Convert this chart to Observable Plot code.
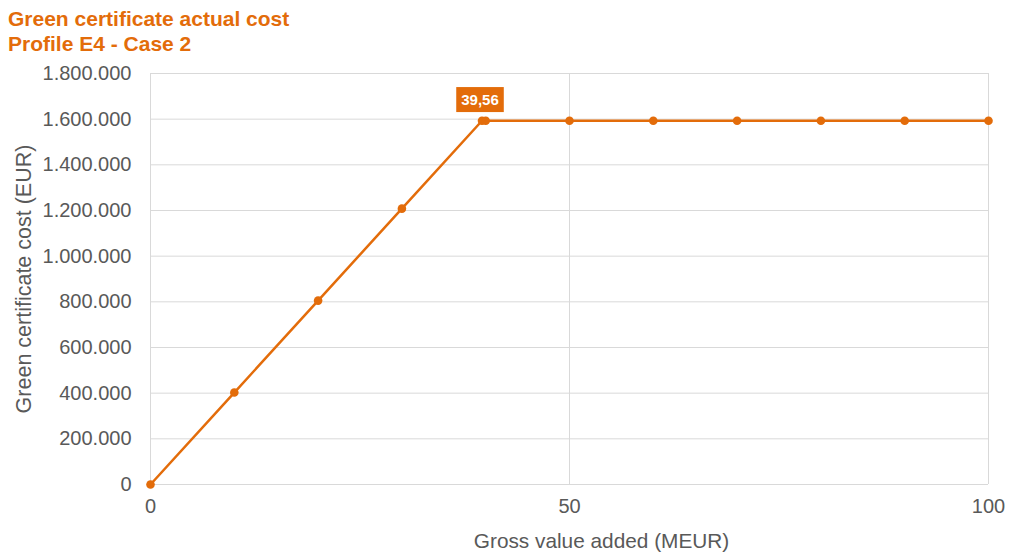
<!DOCTYPE html>
<html>
<head>
<meta charset="utf-8">
<script src="https://cdn.jsdelivr.net/npm/d3@7"></script>
<script src="https://cdn.jsdelivr.net/npm/@observablehq/plot@0.6"></script>
<style>
  html, body { margin: 0; padding: 0; background: #fff; }
  #wrap { position: relative; width: 1010px; height: 560px; font-family: "Liberation Sans", Arial, sans-serif; }
  #title { position: absolute; left: 8px; top: 6px; color: #E36C0A; font-weight: bold; font-size: 21px; line-height: 25px; z-index: 2; }
  #chart { position: absolute; left: 0; top: 0; }
</style>
</head>
<body>
<div id="wrap">
  <div id="title">Green certificate actual cost<br>Profile E4 - Case 2</div>
  <div id="chart"></div>
</div>
<script>
const gva = [0, 10, 20, 30, 39.56, 40, 50, 60, 70, 80, 90, 100];
const cost = [0, 402700, 805400, 1208100, 1593000, 1593000, 1593000, 1593000, 1593000, 1593000, 1593000, 1593000];
const xTicks = [0, 50, 100];
const yTicks = [0, 200000, 400000, 600000, 800000, 1000000, 1200000, 1400000, 1600000, 1800000];
const labelPoint = [{x: 39.56, y: 1593000, text: "39,56"}];

const data = gva.map((x, i) => ({x, y: cost[i]}));
const fmt = d3.formatLocale({decimal: ",", thousands: ".", grouping: [3], currency: ["", "€"]}).format(",");
const orange = "#E36C0A";
const grey = "#595959";

const chart = Plot.plot({
  width: 1010,
  height: 560,
  marginLeft: 150,
  marginRight: 22,
  marginTop: 73,
  marginBottom: 76,
  style: {fontFamily: "'Liberation Sans', Arial, sans-serif", fontSize: "20px", color: grey, background: "white"},
  x: {domain: [0, 100], ticks: xTicks},
  y: {domain: [0, 1800000], ticks: yTicks},
  marks: [
    Plot.gridY(yTicks, {stroke: "#d9d9d9", strokeOpacity: 1, strokeWidth: 1}),
    Plot.gridX(xTicks, {stroke: "#d9d9d9", strokeOpacity: 1, strokeWidth: 1}),
    Plot.axisY(yTicks, {tickSize: 0, tickPadding: 19, tickFormat: fmt, fill: grey, fontSize: 20, label: null}),
    Plot.axisX(xTicks, {tickSize: 0, tickPadding: 14, fill: grey, fontSize: 20, label: null}),
    Plot.line(data, {x: "x", y: "y", stroke: orange, strokeWidth: 2.5}),
    Plot.dot(data, {x: "x", y: "y", fill: orange, r: 4.3}),
    Plot.text(labelPoint, {x: "x", y: "y", text: "text", dy: -20.5, dx: -2, fill: "white", fontSize: 15, fontWeight: "bold"}),
    Plot.text(["Gross value added (MEUR)"], {frameAnchor: "bottom", dx: 32, dy: 63, fill: grey, fontSize: 20.8}),
    Plot.text(["Green certificate cost (EUR)"], {frameAnchor: "left", dx: -126, rotate: -90, textAnchor: "middle", fill: grey, fontSize: 21.5})
  ]
});
document.getElementById("chart").appendChild(chart);

// orange box behind the data label
const labelTexts = new Set(labelPoint.map(d => d.text));
d3.select(chart).selectAll("text").filter(function() { return labelTexts.has(this.textContent); }).each(function() {
  const b = this.getBBox();
  const cx = b.x + b.width / 2, cy = b.y + b.height / 2;
  const w = b.width + 10, h = 25;
  d3.select(this.parentNode).insert("rect", () => this)
    .attr("x", cx - w / 2).attr("y", cy - h / 2)
    .attr("width", w).attr("height", h)
    .attr("transform", this.getAttribute("transform"))
    .attr("fill", orange);
});
</script>
</body>
</html>
